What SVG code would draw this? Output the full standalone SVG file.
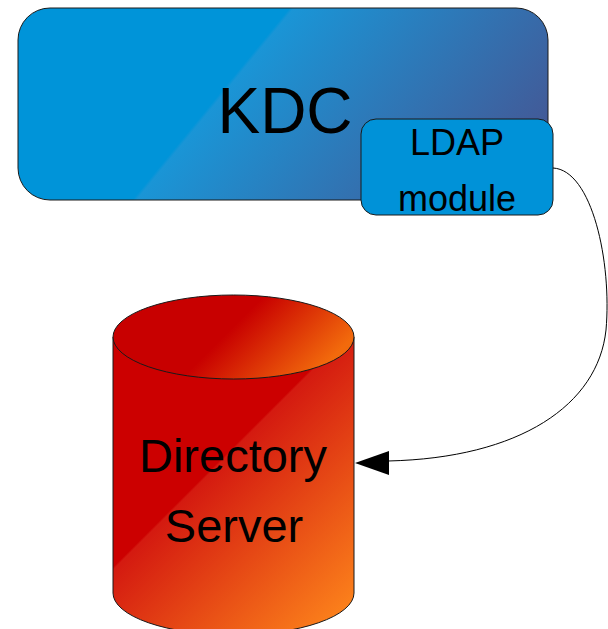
<svg xmlns="http://www.w3.org/2000/svg" width="608" height="629" viewBox="0 0 608 629">
<defs>
<linearGradient id="gBlue" gradientUnits="userSpaceOnUse" x1="211" y1="104" x2="460" y2="308">
<stop offset="0" stop-color="#0094d9"/>
<stop offset="0.01" stop-color="#1a95d6"/>
<stop offset="1" stop-color="#4a4f8c"/>
</linearGradient>
<linearGradient id="gRed" gradientUnits="userSpaceOnUse" x1="233" y1="447" x2="384" y2="598">
<stop offset="0" stop-color="#cc0000"/>
<stop offset="0.01" stop-color="#d41a10"/>
<stop offset="1" stop-color="#ff8a1c"/>
</linearGradient>
<linearGradient id="gTop" gradientUnits="userSpaceOnUse" x1="240" y1="320" x2="305" y2="385">
<stop offset="0" stop-color="#c80000"/>
<stop offset="1" stop-color="#f26a0c"/>
</linearGradient>
<style>
.lbl{font-family:"Liberation Sans",Arial,sans-serif;fill:#000;text-anchor:middle}
.shape{stroke:#1a1a1a;stroke-width:1}
</style>
</defs>
<g id="kdc">
<rect class="shape" x="18" y="8" width="530" height="192" rx="32" ry="32" fill="url(#gBlue)"/>
<text class="lbl" x="285" y="133" font-size="64">KDC</text>
</g>
<g id="ldap">
<rect class="shape" x="361" y="119" width="192" height="96" rx="15" ry="15" fill="#0092d8"/>
<text class="lbl" x="457" y="155" font-size="36">LDAP</text>
<text class="lbl" x="457" y="211" font-size="36">module</text>
</g>
<g id="directory">
<path class="shape" d="M113,337 L113,593 A120.5,42 0 0 0 354,593 L354,337 Z" fill="url(#gRed)"/>
<ellipse class="shape" cx="233.5" cy="337" rx="120.5" ry="42" fill="url(#gTop)"/>
<text class="lbl" x="233" y="472" font-size="47">Directory</text>
<text class="lbl" x="234" y="542" font-size="47">Server</text>
</g>
<g id="connectors">
<path d="M553,168 C592,170 612,262 606,330 C598,405 520,458 388,461" fill="none" stroke="#000" stroke-width="1"/>
<path d="M355,463 L389,451 L389,475 Z" fill="#000"/>
</g>
</svg>
